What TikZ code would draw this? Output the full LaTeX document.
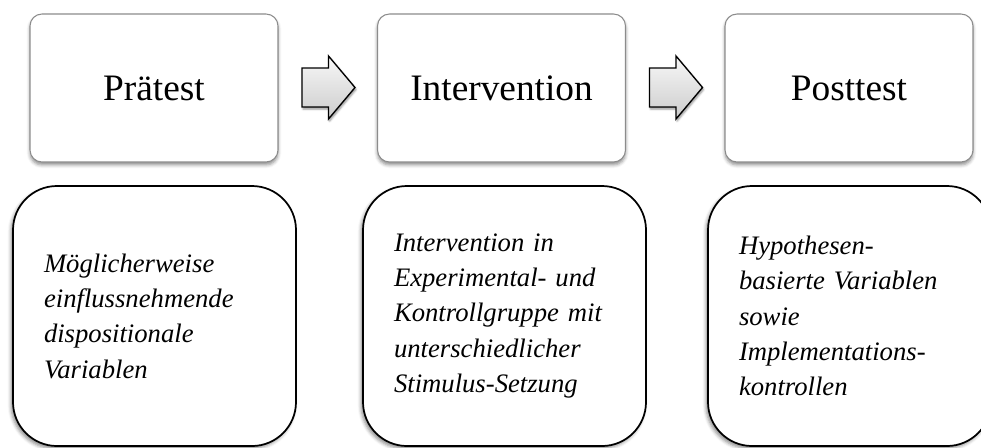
\documentclass[tikz,border=0pt]{standalone}
\usepackage{fontspec}
\setmainfont{Liberation Serif}[
  UprightFont={Liberation Serif},
  ItalicFont={Liberation Serif Italic},
  BoldFont={Liberation Serif Bold}]
\usetikzlibrary{shadows.blur}

\tikzset{
  phase/.style={draw=black!45, line width=0.8pt, fill=white, rounded corners=9pt,
    minimum width=186pt, minimum height=111pt, inner sep=0pt,
    font=\fontsize{28}{34}\selectfont,
    blur shadow={shadow xshift=0pt, shadow yshift=-2.2pt, shadow blur radius=2.5pt, shadow opacity=45}},
  detail/.style={draw=black, line width=1.3pt, fill=white, rounded corners=33pt,
    minimum width=212.25pt, minimum height=195pt, inner sep=0pt,
    text width=165.75pt, align=left,
    font=\fontsize{20}{26.5}\selectfont\itshape,
    blur shadow={shadow xshift=-1.5pt, shadow yshift=-2pt, shadow blur radius=2.5pt, shadow opacity=45}},
  flow/.style={draw=black, line width=1pt, line join=miter,
    top color=black!3, bottom color=black!20,
    blur shadow={shadow xshift=0.8pt, shadow yshift=-1.5pt, shadow blur radius=1.5pt, shadow opacity=45}}
}

\begin{document}
\begin{tikzpicture}[x=0.75pt,y=-0.75pt]
  \useasboundingbox (0,0) rectangle (981,447);
  \clip (0,0) rectangle (981,447);

  % three phases
  \node[phase] (pre)  at (154,88)   {Prätest};
  \node[phase] (int)  at (501.5,88) {Intervention};
  \node[phase] (post) at (849,88)   {Posttest};

  % block arrows between phases
  \coordinate (a1) at (328.5,87.5);
  \coordinate (a2) at (676,87.5);
  \foreach \c in {a1,a2}
    \draw[flow, shift={(\c)}] (-26.5,-19.5) -- (0,-19.5) -- (0,-31.5) -- (26.5,0)
      -- (0,31.5) -- (0,19.5) -- (-26.5,19.5) -- cycle;

  % descriptions
  \node[detail] (d1) at (154.5,316) {Möglicherweise\\ einflussnehmende\\ dispositionale\\ Variablen};
  \node[detail] (d2) at (504.5,316) {Intervention in\\ Experimental- und\\ Kontrollgruppe mit\\ unterschiedlicher\\ Stimulus-Setzung};
  \node[detail] (d3) at (849.5,316) {Hypothesen-\\ basierte Variablen\\ sowie\\ Implementations-\\ kontrollen};
\end{tikzpicture}
\end{document}
